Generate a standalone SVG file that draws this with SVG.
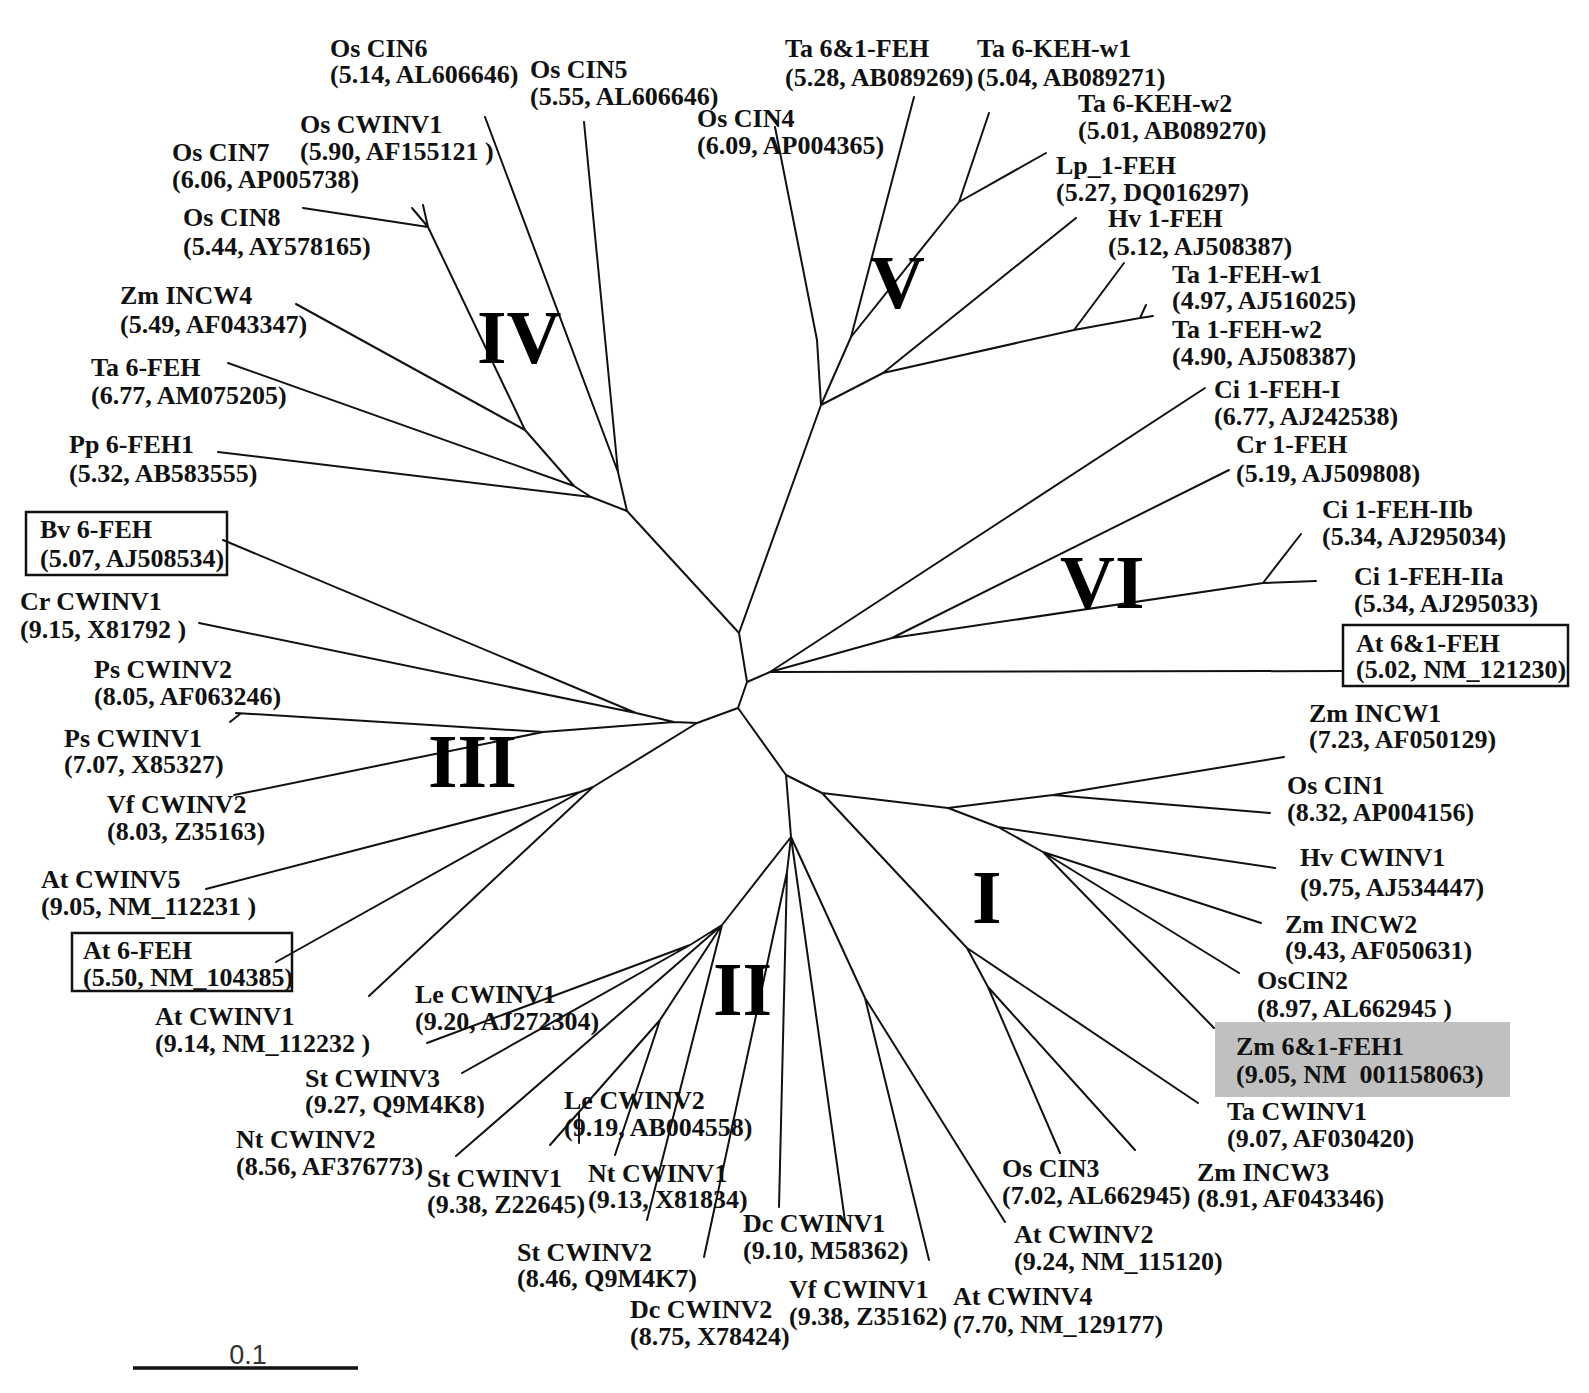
<svg xmlns="http://www.w3.org/2000/svg" width="1589" height="1393" viewBox="0 0 1589 1393">
<style>
.t{font-family:"Liberation Serif","Times New Roman",serif;font-weight:bold;font-size:26px;fill:#111}
.g{font-family:"Liberation Serif","Times New Roman",serif;font-weight:bold;font-size:76px;fill:#000}
.e{stroke:#111;stroke-width:2;fill:none;stroke-linecap:round;stroke-linejoin:round}
.box{fill:none;stroke:#111;stroke-width:2.5}
</style>
<rect width="1589" height="1393" fill="#fff"/>
<g id="connectors" class="e">
<path d="M739,633L627,511M739,633L821,405M739,633L747,682L770,672M747,682L738,708L697,723M738,708L786,775"/>
<path d="M627,511L618,472L485,117M618,472L584,122M627,511L591,497L218,452M591,497L574,486L228,363M574,486L525,430L296,304M525,430L428,227L303,208M428,227L412,208M428,227L423,205"/>
<path d="M821,405L817,340L775,127M821,405L851,337L914,97M851,337L959,202L989,113M959,202L1046,153M821,405L883,373L1076,218M883,373L1074,330L1124,263M1074,330L1140,318L1153,316M1140,318L1146,305"/>
<path d="M770,672L1205,388M770,672L892,638L1229,470M892,638L1263,583L1316,581M1263,583L1301,534M770,672L1343,671"/>
<path d="M697,723L674,722L636,713L223,540M636,713L199,623M674,722L543,732L236,713M240,714L230,722M543,732L234,795M697,723L593,787L580,792L206,889M580,792L276,962M593,787L369,996"/>
<path d="M786,775L791,837L722,925L690,945L427,1043M690,945L462,1073M722,925L456,1156M722,925L660,1020L579,1112L550,1145M579,1112L579,1143M660,1020L615,1155M722,925L647,1220M791,837L787,872L704,1257M787,872L779,1207M791,837L845,1221M791,837L865,998L1005,1222M865,998L929,1260"/>
<path d="M786,775L822,793L948,808L1053,795L1284,757M1053,795L1270,813M948,808L998,827L1275,868M998,827L1043,852L1261,923M1043,852L1239,973M1043,852L1214,1028M822,793L967,948L1198,1103M967,948L988,987L1060,1153M988,987L1135,1150"/>
</g>
<g id="clades">
<text class="g" x="477" y="363">IV</text>
<text class="g" x="870" y="308">V</text>
<text class="g" x="1060" y="608">VI</text>
<text class="g" x="428" y="787">III</text>
<text class="g" x="713" y="1015">II</text>
<text class="g" x="972" y="923">I</text>
</g>
<g id="os-cin6"><text class="t" x="330" y="57">Os CIN6</text><text class="t" x="330" y="83">(5.14, AL606646)</text></g>
<g id="os-cin5"><text class="t" x="530" y="78">Os CIN5</text><text class="t" x="530" y="105">(5.55, AL606646)</text></g>
<g id="os-cwinv1"><text class="t" x="300" y="133">Os CWINV1</text><text class="t" x="300" y="160">(5.90, AF155121 )</text></g>
<g id="os-cin7"><text class="t" x="172" y="161">Os CIN7</text><text class="t" x="172" y="188">(6.06, AP005738)</text></g>
<g id="os-cin8"><text class="t" x="183" y="226">Os CIN8</text><text class="t" x="183" y="255">(5.44, AY578165)</text></g>
<g id="zm-incw4"><text class="t" x="120" y="304">Zm INCW4</text><text class="t" x="120" y="333">(5.49, AF043347)</text></g>
<g id="ta-6-feh"><text class="t" x="91" y="376">Ta 6-FEH</text><text class="t" x="91" y="404">(6.77, AM075205)</text></g>
<g id="pp-6-feh1"><text class="t" x="69" y="453">Pp 6-FEH1</text><text class="t" x="69" y="482">(5.32, AB583555)</text></g>
<g id="bv-6-feh"><rect class="box" x="26" y="512" width="201" height="63"/><text class="t" x="40" y="538">Bv 6-FEH</text><text class="t" x="40" y="567">(5.07, AJ508534)</text></g>
<g id="cr-cwinv1"><text class="t" x="20" y="610">Cr CWINV1</text><text class="t" x="20" y="638">(9.15, X81792 )</text></g>
<g id="ps-cwinv2"><text class="t" x="94" y="678">Ps CWINV2</text><text class="t" x="94" y="705">(8.05, AF063246)</text></g>
<g id="ps-cwinv1"><text class="t" x="64" y="747">Ps CWINV1</text><text class="t" x="64" y="773">(7.07, X85327)</text></g>
<g id="vf-cwinv2"><text class="t" x="107" y="813">Vf CWINV2</text><text class="t" x="107" y="840">(8.03, Z35163)</text></g>
<g id="at-cwinv5"><text class="t" x="41" y="888">At CWINV5</text><text class="t" x="41" y="915">(9.05, NM_112231 )</text></g>
<g id="at-6-feh"><rect class="box" x="72" y="933" width="220" height="58"/><text class="t" x="83" y="959">At 6-FEH</text><text class="t" x="83" y="986">(5.50, NM_104385)</text></g>
<g id="at-cwinv1"><text class="t" x="155" y="1025">At CWINV1</text><text class="t" x="155" y="1052">(9.14, NM_112232 )</text></g>
<g id="le-cwinv1"><text class="t" x="415" y="1003">Le CWINV1</text><text class="t" x="415" y="1030">(9.20, AJ272304)</text></g>
<g id="st-cwinv3"><text class="t" x="305" y="1087">St CWINV3</text><text class="t" x="305" y="1113">(9.27, Q9M4K8)</text></g>
<g id="nt-cwinv2"><text class="t" x="236" y="1148">Nt CWINV2</text><text class="t" x="236" y="1175">(8.56, AF376773)</text></g>
<g id="st-cwinv1"><text class="t" x="427" y="1187">St CWINV1</text><text class="t" x="427" y="1213">(9.38, Z22645)</text></g>
<g id="le-cwinv2"><text class="t" x="564" y="1109">Le CWINV2</text><text class="t" x="564" y="1136">(9.19, AB004558)</text></g>
<g id="nt-cwinv1"><text class="t" x="588" y="1182">Nt CWINV1</text><text class="t" x="588" y="1208">(9.13, X81834)</text></g>
<g id="st-cwinv2"><text class="t" x="517" y="1261">St CWINV2</text><text class="t" x="517" y="1287">(8.46, Q9M4K7)</text></g>
<g id="dc-cwinv2"><text class="t" x="630" y="1318">Dc CWINV2</text><text class="t" x="630" y="1345">(8.75, X78424)</text></g>
<g id="dc-cwinv1"><text class="t" x="743" y="1232">Dc CWINV1</text><text class="t" x="743" y="1259">(9.10, M58362)</text></g>
<g id="vf-cwinv1"><text class="t" x="789" y="1298">Vf CWINV1</text><text class="t" x="789" y="1325">(9.38, Z35162)</text></g>
<g id="at-cwinv4"><text class="t" x="953" y="1305">At CWINV4</text><text class="t" x="953" y="1333">(7.70, NM_129177)</text></g>
<g id="at-cwinv2"><text class="t" x="1014" y="1243">At CWINV2</text><text class="t" x="1014" y="1270">(9.24, NM_115120)</text></g>
<g id="os-cin3"><text class="t" x="1002" y="1177">Os CIN3</text><text class="t" x="1002" y="1204">(7.02, AL662945)</text></g>
<g id="zm-incw3"><text class="t" x="1197" y="1181">Zm INCW3</text><text class="t" x="1197" y="1207">(8.91, AF043346)</text></g>
<g id="ta-cwinv1"><text class="t" x="1227" y="1120">Ta CWINV1</text><text class="t" x="1227" y="1147">(9.07, AF030420)</text></g>
<g id="zm-6-1-feh1"><rect x="1215" y="1022" width="295" height="75" fill="#c0c0c0"/><text class="t" x="1236" y="1055">Zm 6&amp;1-FEH1</text><text class="t" x="1236" y="1083" style="white-space:pre">(9.05, NM  001158063)</text></g>
<g id="oscin2"><text class="t" x="1257" y="989">OsCIN2</text><text class="t" x="1257" y="1017">(8.97, AL662945 )</text></g>
<g id="zm-incw2"><text class="t" x="1285" y="933">Zm INCW2</text><text class="t" x="1285" y="959">(9.43, AF050631)</text></g>
<g id="hv-cwinv1"><text class="t" x="1300" y="866">Hv CWINV1</text><text class="t" x="1300" y="896">(9.75, AJ534447)</text></g>
<g id="os-cin1"><text class="t" x="1287" y="794">Os CIN1</text><text class="t" x="1287" y="821">(8.32, AP004156)</text></g>
<g id="zm-incw1"><text class="t" x="1309" y="722">Zm INCW1</text><text class="t" x="1309" y="748">(7.23, AF050129)</text></g>
<g id="at-6-1-feh"><rect class="box" x="1343" y="625" width="225" height="61"/><text class="t" x="1356" y="652">At 6&amp;1-FEH</text><text class="t" x="1356" y="678">(5.02, NM_121230)</text></g>
<g id="ci-1-feh-iia"><text class="t" x="1354" y="585">Ci 1-FEH-IIa</text><text class="t" x="1354" y="612">(5.34, AJ295033)</text></g>
<g id="ci-1-feh-iib"><text class="t" x="1322" y="518">Ci 1-FEH-IIb</text><text class="t" x="1322" y="545">(5.34, AJ295034)</text></g>
<g id="cr-1-feh"><text class="t" x="1236" y="453">Cr 1-FEH</text><text class="t" x="1236" y="482">(5.19, AJ509808)</text></g>
<g id="ci-1-feh-i"><text class="t" x="1214" y="398">Ci 1-FEH-I</text><text class="t" x="1214" y="425">(6.77, AJ242538)</text></g>
<g id="ta-1-feh-w2"><text class="t" x="1172" y="338">Ta 1-FEH-w2</text><text class="t" x="1172" y="365">(4.90, AJ508387)</text></g>
<g id="ta-1-feh-w1"><text class="t" x="1172" y="283">Ta 1-FEH-w1</text><text class="t" x="1172" y="309">(4.97, AJ516025)</text></g>
<g id="hv-1-feh"><text class="t" x="1108" y="227">Hv 1-FEH</text><text class="t" x="1108" y="255">(5.12, AJ508387)</text></g>
<g id="lp-1-feh"><text class="t" x="1056" y="174">Lp_1-FEH</text><text class="t" x="1056" y="201">(5.27, DQ016297)</text></g>
<g id="ta-6-keh-w2"><text class="t" x="1078" y="112">Ta 6-KEH-w2</text><text class="t" x="1078" y="139">(5.01, AB089270)</text></g>
<g id="ta-6-keh-w1"><text class="t" x="977" y="57">Ta 6-KEH-w1</text><text class="t" x="977" y="86">(5.04, AB089271)</text></g>
<g id="ta-6-1-feh"><text class="t" x="785" y="57">Ta 6&amp;1-FEH</text><text class="t" x="785" y="86">(5.28, AB089269)</text></g>
<g id="os-cin4"><text class="t" x="697" y="127">Os CIN4</text><text class="t" x="697" y="154">(6.09, AP004365)</text></g>
<g id="scale-bar"><line x1="133" y1="1368" x2="358" y2="1368" stroke="#111" stroke-width="3.5"/><text x="248" y="1364" text-anchor="middle" font-family="Liberation Sans, Arial, sans-serif" font-size="27" fill="#333">0.1</text></g>
</svg>
